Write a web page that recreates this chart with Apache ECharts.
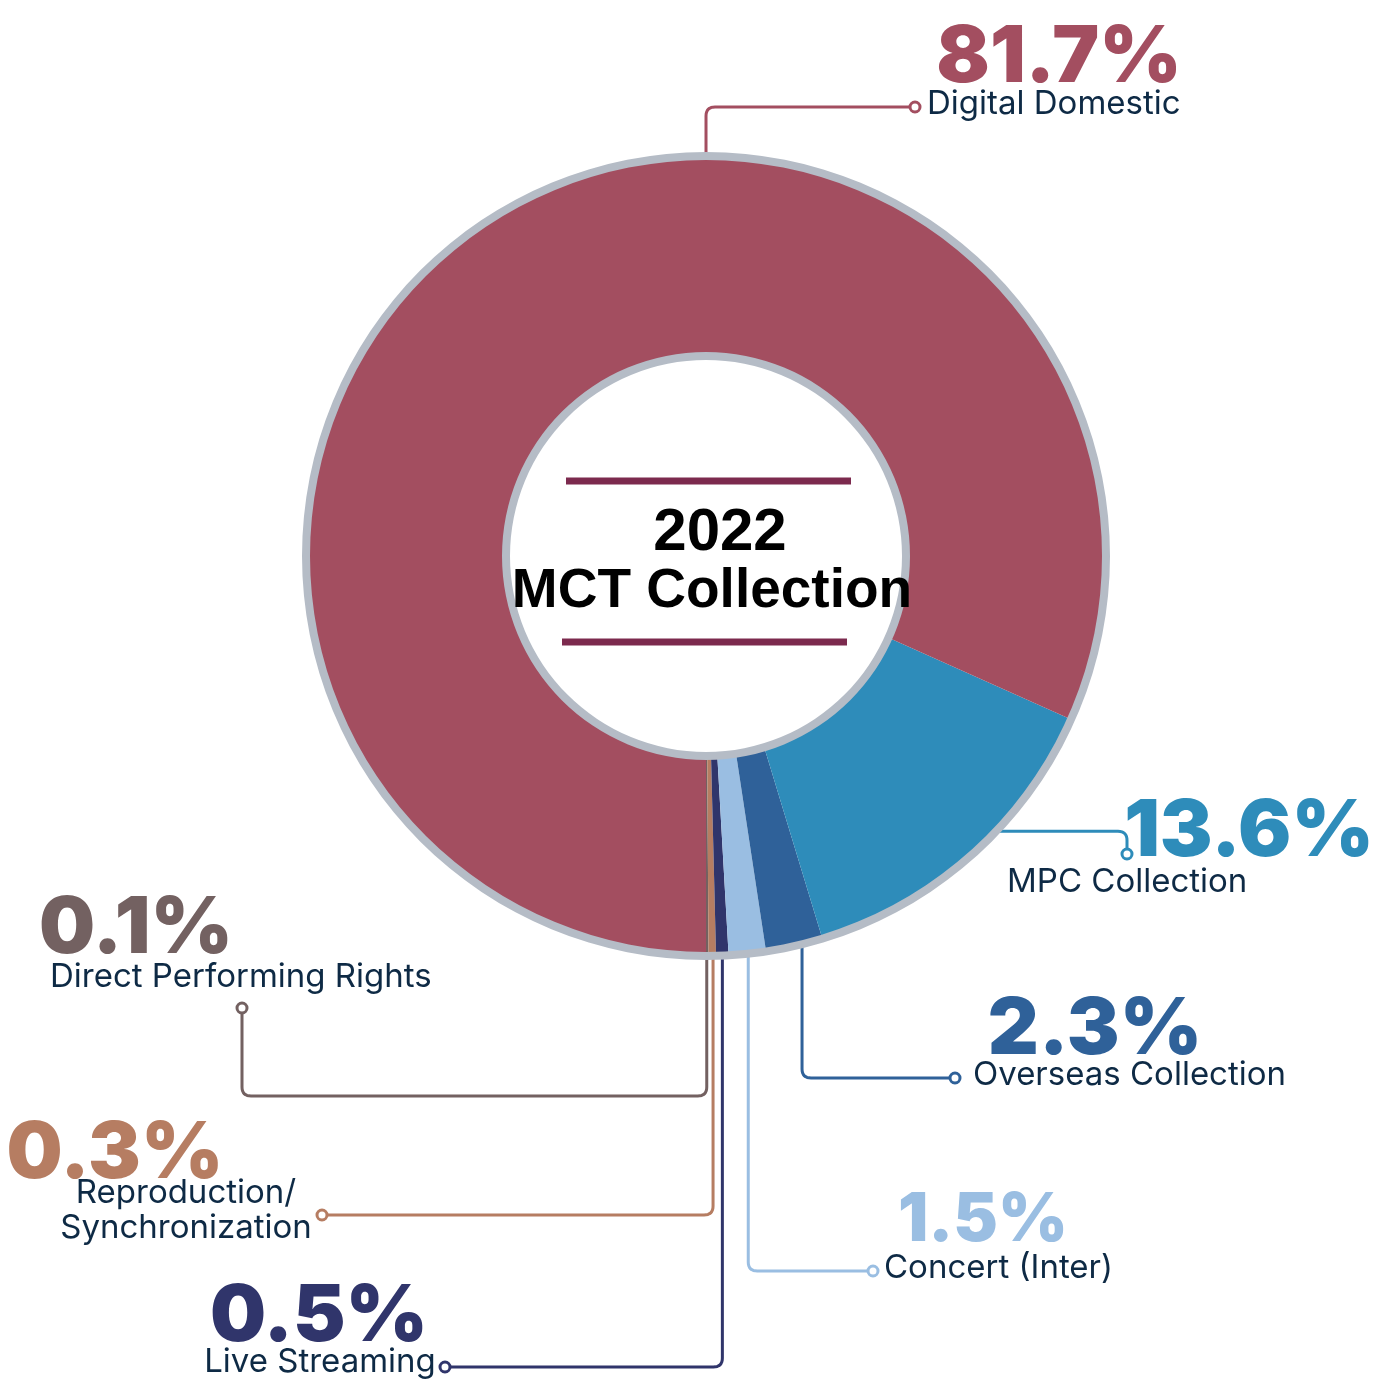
<!DOCTYPE html>
<html>
<head>
<meta charset="utf-8">
<script src="https://cdn.jsdelivr.net/npm/echarts@6/dist/echarts.min.js"></script>
<style>
html,body{margin:0;padding:0;background:#fff;}
#chart{width:1375px;height:1379px;}
</style>
</head>
<body>
<div id="chart"></div>
<script>
// ---- data ----
const categories = ['Direct Performing Rights', 'Reproduction/\nSynchronization', 'Live Streaming', 'Concert (Inter)', 'Overseas Collection', 'MPC Collection', 'Digital Domestic'];
const shares = [0.1, 0.3, 0.5, 1.5, 2.3, 13.6, 81.7];
const titleLines = ['2022', 'MCT Collection'];

// ---- styles / layout ----
const colors = ['#736161', '#B67D62', '#30356B', '#9ABEE2', '#2F6199', '#2E8CBA', '#A34E60'];
const NAME_COLOR = '#0E2A45';
const CX = 706, CY = 556;
const R_IN = 200, R_OUT = 399;
const ANCHOR_R = 401;
const NAME_SIZE = 33;

const LAYOUT = [
  {frac: 0.3,   pct: {x: 136,  y: 952,  size: 79}, name: {x: 50,   y: 987,  align: 'left'},
   route: a => [[a.x, a.y], [a.x, 1096], [242, 1096], [242, 1008]], dot: [242, 1008]},
  {frac: 0.6,   pct: {x: 115,  y: 1177, size: 79}, name: {x: 186,  y: 1203, align: 'center', lh: 35},
   route: a => [[a.x, a.y], [a.x, 1215], [322, 1215]], dot: [322, 1215]},
  {frac: 0.5,   pct: {x: 319,  y: 1340, size: 79}, name: {x: 320,  y: 1372, align: 'center'},
   route: a => [[a.x, a.y], [a.x, 1367], [445, 1367]], dot: [445, 1367]},
  {frac: 0.52,  pct: {x: 983,  y: 1240, size: 67}, name: {x: 884,  y: 1278, align: 'left'},
   route: a => [[a.x, a.y], [a.x, 1271], [873, 1271]], dot: [873, 1271]},
  {frac: 0.63,  pct: {x: 1095, y: 1053, size: 79}, name: {x: 973,  y: 1085, align: 'left'},
   route: a => [[a.x, a.y], [a.x, 1078], [955, 1078]], dot: [955, 1078]},
  {frac: 0.607, pct: {x: 1249, y: 855,  size: 79}, name: {x: 1007, y: 892,  align: 'left'},
   route: a => [[a.x, a.y], [1127, a.y], [1127, 854]], dot: [1127, 854]},
  {frac: 0.388, pct: {x: 1059, y: 81,   size: 79}, name: {x: 927,  y: 114,  align: 'left'},
   route: a => [[a.x, a.y], [a.x, 107], [915, 107]], dot: [915, 107]}
];

// polyline points with rounded corners (quadratic curve sampled)
function roundedPoints(pts, r) {
  const out = [pts[0]];
  for (let i = 1; i < pts.length - 1; i++) {
    const [x0, y0] = pts[i - 1], [x1, y1] = pts[i], [x2, y2] = pts[i + 1];
    const d1 = Math.hypot(x1 - x0, y1 - y0), d2 = Math.hypot(x2 - x1, y2 - y1);
    const rr = Math.min(r, d1 / 2, d2 / 2);
    const ax = x1 + (x0 - x1) / d1 * rr, ay = y1 + (y0 - y1) / d1 * rr;
    const bx = x1 + (x2 - x1) / d2 * rr, by = y1 + (y2 - y1) / d2 * rr;
    const N = 8;
    for (let k = 0; k <= N; k++) {
      const t = k / N;
      const px = (1 - t) * (1 - t) * ax + 2 * (1 - t) * t * x1 + t * t * bx;
      const py = (1 - t) * (1 - t) * ay + 2 * (1 - t) * t * y1 + t * t * by;
      out.push([px, py]);
    }
  }
  out.push(pts[pts.length - 1]);
  return out;
}

function textEl(text, x, baseline, font, size, fill, align, k) {
  return {
    type: 'text', x: x, y: baseline - (k || 0.29) * size, z: 10, silent: true,
    style: {text: text, font: font, fill: fill, align: align, verticalAlign: 'middle',
            textAlign: align, textVerticalAlign: 'middle'}
  };
}

const total = shares.reduce((s, v) => s + v, 0);
const graphics = [];
let cum = 0;
shares.forEach((v, i) => {
  const L = LAYOUT[i];
  const theta = 2 * Math.PI * (cum + L.frac * v) / total;
  const a = {x: CX + ANCHOR_R * Math.sin(theta), y: CY + ANCHOR_R * Math.cos(theta)};
  cum += v;
  graphics.push({type: 'polyline', z: 0, silent: true,
    shape: {points: roundedPoints(L.route(a), 9)},
    style: {stroke: colors[i], lineWidth: 3, fill: null, lineJoin: 'round'}});
  graphics.push({type: 'circle', z: 10, silent: true,
    shape: {cx: L.dot[0], cy: L.dot[1], r: 5},
    style: {fill: '#fff', stroke: colors[i], lineWidth: 3}});
  graphics.push(textEl(v.toFixed(1) + '%', L.pct.x, L.pct.y,
    '900 ' + L.pct.size + 'px Inter', L.pct.size, colors[i], 'center'));
  const lines = categories[i].split('\n');
  lines.forEach((ln, k) => {
    graphics.push(textEl(ln, L.name.x, L.name.y + k * (L.name.lh || 35),
      '400 ' + NAME_SIZE + 'px Inter', NAME_SIZE, NAME_COLOR, L.name.align));
  });
});

// centre title
graphics.push({type: 'rect', z: 10, silent: true, shape: {x: 566, y: 477.5, width: 285, height: 7}, style: {fill: '#7C2A4E'}});
graphics.push({type: 'rect', z: 10, silent: true, shape: {x: 562, y: 638.5, width: 285, height: 7}, style: {fill: '#7C2A4E'}});
graphics.push(textEl(titleLines[0], 720, 551, 'bold 60px "Liberation Sans", Arial, sans-serif', 60, '#000', 'center', 0.30));
graphics.push(textEl(titleLines[1], 712, 608, 'bold 55px "Liberation Sans", Arial, sans-serif', 55, '#000', 'center', 0.30));

const chart = echarts.init(document.getElementById('chart'), null, {renderer: 'canvas'});
chart.setOption({
  animation: false,
  backgroundColor: '#fff',
  series: [
    {
      type: 'pie', z: 2, center: [CX, CY], radius: [R_IN, R_OUT],
      startAngle: 270, clockwise: false, silent: true,
      label: {show: false}, labelLine: {show: false},
      emphasis: {disabled: true, scale: false},
      itemStyle: {borderWidth: 0},
      data: categories.map((c, i) => ({name: c, value: shares[i], itemStyle: {color: colors[i]}}))
    },
    {
      type: 'pie', z: 3, center: [CX, CY], radius: [396, 404], silent: true,
      label: {show: false}, labelLine: {show: false}, emphasis: {disabled: true, scale: false},
      itemStyle: {borderWidth: 0},
      data: [{name: 'outer ring', value: 1, itemStyle: {color: '#B5BCC6'}}]
    },
    {
      type: 'pie', z: 3, center: [CX, CY], radius: [196, 204], silent: true,
      label: {show: false}, labelLine: {show: false}, emphasis: {disabled: true, scale: false},
      itemStyle: {borderWidth: 0},
      data: [{name: 'inner ring', value: 1, itemStyle: {color: '#B5BCC6'}}]
    }
  ],
  graphic: {elements: graphics}
});
</script>
</body>
</html>
